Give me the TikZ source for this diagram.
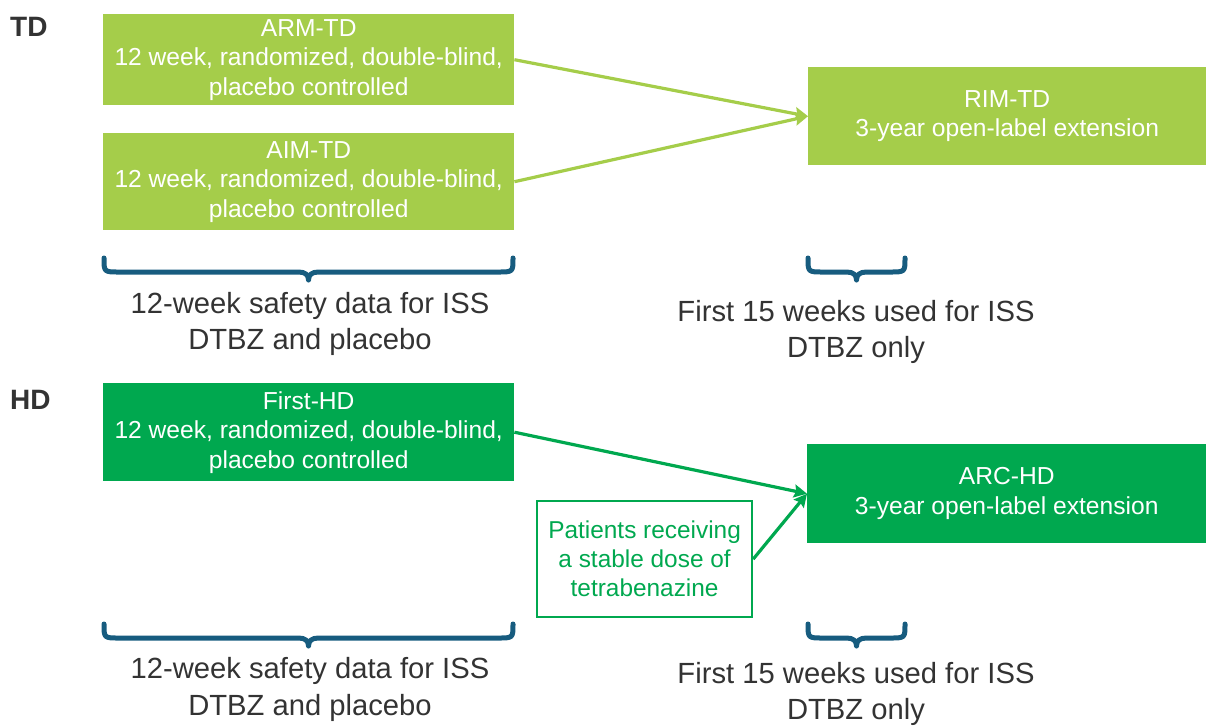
\documentclass[tikz,border=0pt]{standalone}
\usepackage{fontspec}
\setmainfont{Liberation Sans}
\usetikzlibrary{arrows.meta}
\definecolor{lgreen}{HTML}{A5CD4A}
\definecolor{dgreen}{HTML}{00A84F}
\definecolor{braceblue}{HTML}{175C7F}
\definecolor{txtgray}{HTML}{333333}
\tikzset{
  boxtxt/.style={font=\fontsize{24.6}{29.5}\selectfont, text=white, align=center, inner sep=0pt, anchor=north west},
  tdbox/.style={boxtxt, fill=lgreen},
  hdbox/.style={boxtxt, fill=dgreen},
  notebox/.style={draw=dgreen, line width=2.2pt, text=dgreen, font=\fontsize{24.4}{29}\selectfont, align=center, inner sep=0pt, anchor=north west},
  lbl/.style={font=\fontsize{29.2}{36.5}\selectfont, text=txtgray, align=center, inner sep=0pt},
  grp/.style={font=\bfseries\fontsize{28}{30}\selectfont, text=txtgray, inner sep=0pt, anchor=west},
  bracestyle/.style={draw=braceblue, line width=5pt, line cap=round, line join=round},
  tdarrow/.style={draw=lgreen, line width=3.2pt, -{Stealth[length=13pt,width=13pt,inset=2pt]}},
  hdarrow/.style={draw=dgreen, line width=3.2pt, -{Stealth[length=13pt,width=13pt,inset=2pt]}},
}
\newcommand{\mybrace}[4]{% x1, x2, ytop, ybar
  \pgfmathsetmacro{\xm}{(#1+#2)/2}
  \draw[bracestyle] (#1,#3) .. controls (#1,#4) and (#1,#4) .. (#1+15,#4) -- (\xm-10,#4)
    .. controls (\xm-3,#4) and (\xm,#4+3) .. (\xm,#4+8)
    .. controls (\xm,#4+3) and (\xm+3,#4) .. (\xm+10,#4) -- (#2-15,#4)
    .. controls (#2,#4) and (#2,#4) .. (#2,#3);
}
\begin{document}
\begin{tikzpicture}[x=1pt,y=-1pt]
\useasboundingbox (0,0) rectangle (1206,726);
% TD group
\node[grp] (td) at (10,27) {TD};
\node[tdbox, minimum width=411pt, minimum height=91pt] (arm) at (103,14)
  {ARM-TD\\12 week, randomized, double-blind,\\placebo controlled};
\node[tdbox, minimum width=411pt, minimum height=97pt] (aim) at (103,133)
  {AIM-TD\\12 week, randomized, double-blind,\\placebo controlled};
\node[tdbox, minimum width=398pt, minimum height=98pt] (rim) at (808,67)
  {RIM-TD\\3-year open-label extension};
\draw[tdarrow] (arm.east) -- (rim.west);
\draw[tdarrow] (aim.east) -- (rim.west);
\mybrace{104}{513}{258}{272}
\mybrace{808}{905}{258}{272}
\node[lbl] (l1) at (310,324) {12-week safety data for ISS\\DTBZ and placebo};
\node[lbl] (l2) at (856,332) {First 15 weeks used for ISS\\DTBZ only};
% HD group
\node[grp] (hd) at (10,400) {HD};
\node[hdbox, minimum width=411pt, minimum height=98pt] (first) at (103,383)
  {First-HD\\12 week, randomized, double-blind,\\placebo controlled};
\node[hdbox, minimum width=399pt, minimum height=99pt] (arc) at (807,444)
  {ARC-HD\\3-year open-label extension};
\node[notebox, minimum width=215pt, minimum height=116pt] (pat) at (536,500)
  {Patients receiving\\a stable dose of\\tetrabenazine};
\draw[hdarrow] (first.east) -- (arc.west);
\draw[hdarrow] (pat.east) -- (arc.west);
\mybrace{104}{513}{624}{638}
\mybrace{808}{905}{624}{638}
\node[lbl] (l3) at (310,689.5) {12-week safety data for ISS\\DTBZ and placebo};
\node[lbl] (l4) at (856,694) {First 15 weeks used for ISS\\DTBZ only};
\end{tikzpicture}
\end{document}
